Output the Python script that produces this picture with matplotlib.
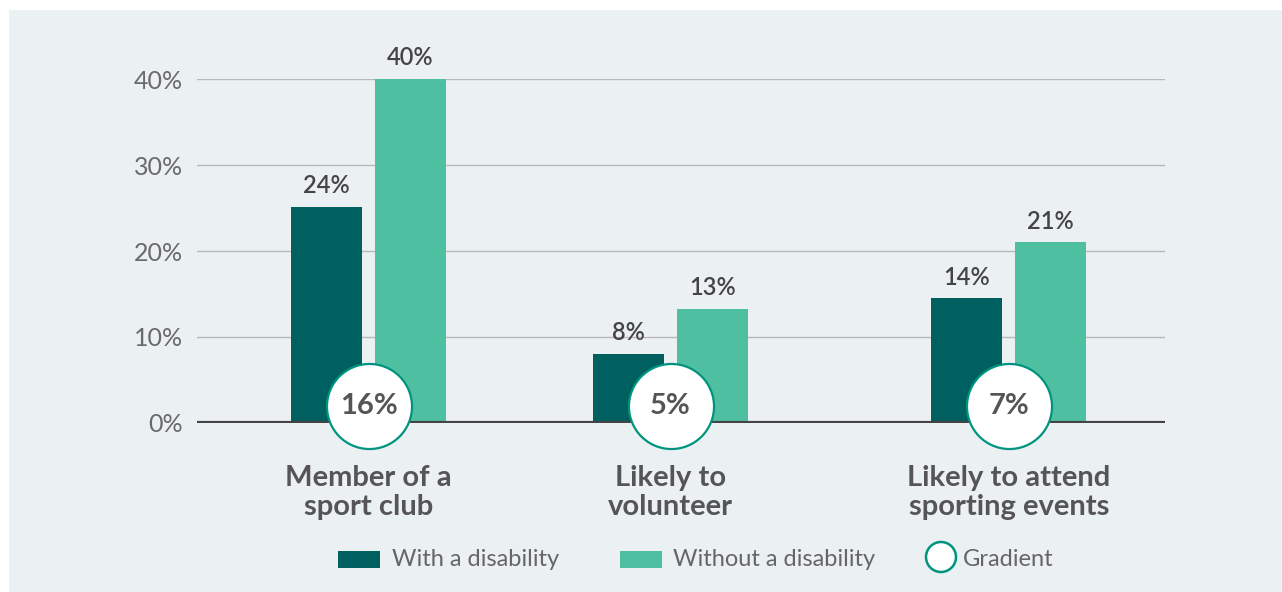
import matplotlib.pyplot as plt
from matplotlib.patches import Rectangle, Circle

categories = ['Member of a\nsport club', 'Likely to\nvolunteer', 'Likely to attend\nsporting events']
with_disability = [25.1, 8.0, 14.5]
without_disability = [40.0, 13.3, 21.0]
with_labels = ['24%', '8%', '14%']
without_labels = ['40%', '13%', '21%']
gradient = ['16%', '5%', '7%']
yticks = [0, 10, 20, 30, 40]
ytick_labels = ['0%', '10%', '20%', '30%', '40%']

DARK = '#005f5f'
LIGHT = '#4fbfa1'
RING = '#00947e'
BG = '#ebf0f3'
W, H = 1282, 592


def main():
    plt.rcParams['font.family'] = ['Lato', 'DejaVu Sans']
    fig = plt.figure(figsize=(W / 100, H / 100), dpi=100)
    fig.patch.set_facecolor('white')
    # grey panel
    fig.patches.append(Rectangle((9 / W, 0), 1, (H - 10) / H, transform=fig.transFigure,
                                 facecolor=BG, edgecolor='none', zorder=-5))

    ax = fig.add_axes([197 / W, (H - 423) / H, 968 / W, 344 / H])
    ax.set_facecolor('none')

    xpos = [0, 1, 2.12]
    bw = 0.235
    off = 0.139
    xd = [x - off for x in xpos]
    xl = [x + off for x in xpos]
    ax.bar(xd, with_disability, bw, color=DARK, zorder=3)
    ax.bar(xl, without_disability, bw, color=LIGHT, zorder=3)

    for x, v, t in zip(xd, with_disability, with_labels):
        ax.annotate(t, (x, v), xytext=(0, 7), textcoords='offset points', ha='center', va='bottom',
                    fontsize=17, color='#444444', fontweight='semibold')
    for x, v, t in zip(xl, without_disability, without_labels):
        ax.annotate(t, (x, v), xytext=(0, 7), textcoords='offset points', ha='center', va='bottom',
                    fontsize=17, color='#444444', fontweight='semibold')

    # gradient rings sitting on the baseline
    ax.scatter(xpos, [2] * 3, s=3750, facecolor='white', edgecolor=RING, linewidth=1.6,
               zorder=6, clip_on=False)
    for x, t in zip(xpos, gradient):
        ax.text(x, 2, t, ha='center', va='center', fontsize=21, fontweight='bold',
                color='#555555', zorder=7)

    for y in yticks[1:]:
        ax.axhline(y, color='#b8b8b8', lw=1, zorder=1)
    ax.axhline(0, color='#444444', lw=3, zorder=5)

    ax.set_xlim(-0.568, 2.637)
    ax.set_ylim(0, 40)
    ax.set_yticks(yticks)
    ax.set_yticklabels(ytick_labels)
    ax.set_xticks(xpos)
    ax.set_xticklabels(categories, fontsize=21, fontweight='bold', color='#555555', linespacing=1.15)
    ax.tick_params(axis='x', length=0, pad=30)
    ax.tick_params(axis='y', length=0, pad=10, labelsize=18, labelcolor='#6a6a6a')
    for s in ax.spines.values():
        s.set_visible(False)

    # legend drawn by hand along the bottom
    def px(x, y):
        return x / W, (H - y) / H
    fig.patches.append(Rectangle(px(338, 568), 42 / W, 17 / H, transform=fig.transFigure,
                                 facecolor=DARK, edgecolor='none'))
    fig.patches.append(Rectangle(px(620, 568), 42 / W, 17 / H, transform=fig.transFigure,
                                 facecolor=LIGHT, edgecolor='none'))
    fig.add_artist(Circle((941, H - 557), 15, transform=None, facecolor='white',
                          edgecolor=RING, linewidth=1.8))
    for x, t in [(392, 'With a disability'), (673, 'Without a disability'), (963, 'Gradient')]:
        fig.text(*px(x, 559), t, ha='left', va='center', fontsize=17, color='#666666')

    fig.savefig('out.png', dpi=100, facecolor=fig.get_facecolor())


if __name__ == '__main__':
    main()
